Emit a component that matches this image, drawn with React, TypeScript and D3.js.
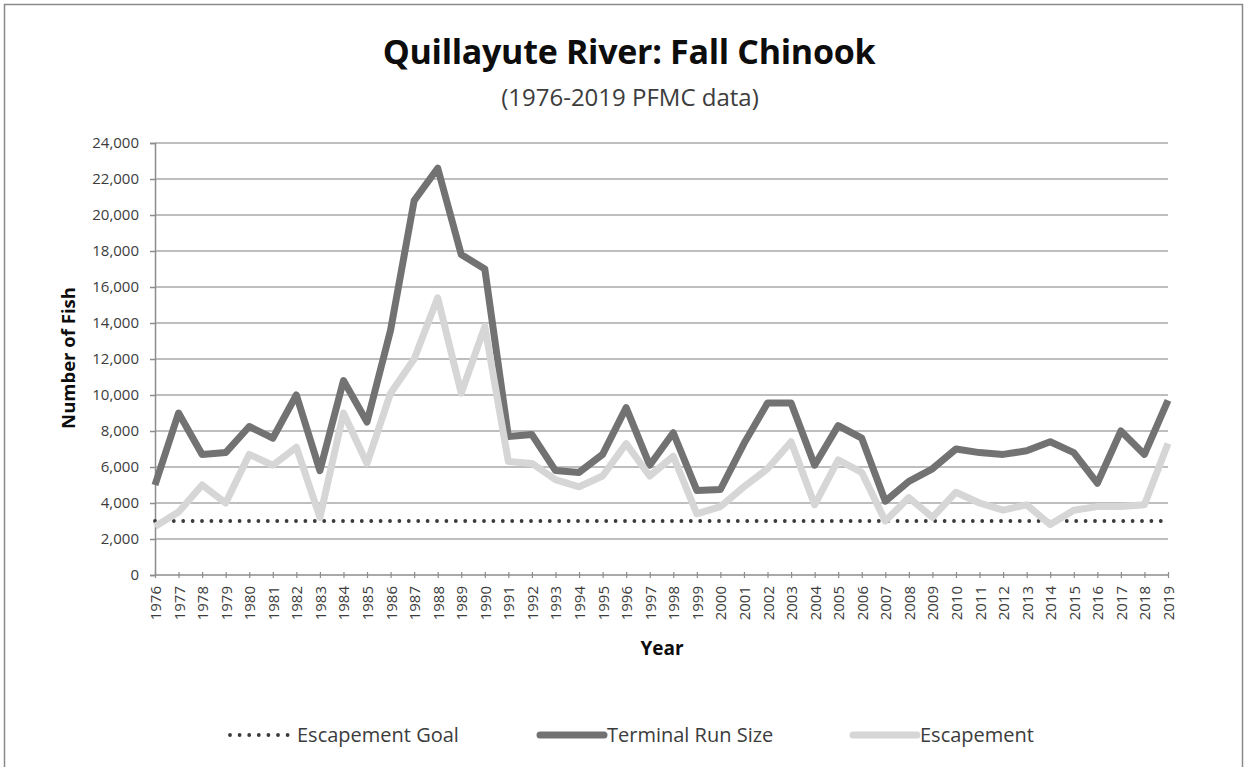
import React, { useEffect, useRef } from 'react';
import * as d3 from 'd3';

const years = [
  '1976', '1977', '1978', '1979', '1980', '1981', '1982', '1983', '1984', '1985',
  '1986', '1987', '1988', '1989', '1990', '1991', '1992', '1993', '1994', '1995',
  '1996', '1997', '1998', '1999', '2000', '2001', '2002', '2003', '2004', '2005',
  '2006', '2007', '2008', '2009', '2010', '2011', '2012', '2013', '2014', '2015',
  '2016', '2017', '2018', '2019'
];

const terminalRunSize = [
  5000, 9000, 6700, 6800, 8250, 7600, 10000, 5800, 10800, 8500,
  13600, 20800, 22600, 17800, 17000, 7700, 7800, 5800, 5700, 6700,
  9300, 6100, 7900, 4700, 4750, 7300, 9550, 9550, 6100, 8300,
  7600, 4100, 5200, 5900, 7000, 6800, 6700, 6900, 7400, 6800,
  5100, 8000, 6700, 9700
];

const escapement = [
  2700, 3500, 5000, 4000, 6700, 6100, 7100, 3200, 9000, 6200,
  10100, 12000, 15400, 10100, 13800, 6300, 6200, 5300, 4900, 5500,
  7300, 5500, 6600, 3400, 3800, 4900, 5900, 7400, 3900, 6400,
  5700, 3000, 4300, 3200, 4600, 4000, 3600, 3900, 2800, 3600,
  3800, 3800, 3900, 7300
];

const escapementGoal = 3000;

const yTicks = [0, 2000, 4000, 6000, 8000, 10000, 12000, 14000, 16000, 18000, 20000, 22000, 24000];

const legendItems = [
  { label: 'Escapement Goal', kind: 'goal' },
  { label: 'Terminal Run Size', kind: 'run' },
  { label: 'Escapement', kind: 'esc' }
];

const W = 1248;
const H = 767;

export default function App() {
  const svgRef = useRef<SVGSVGElement>(null);

  useEffect(() => {
    if (!svgRef.current) return;
    const svg = d3.select(svgRef.current);
    svg.selectAll('*').remove();

    const font = "'Open Sans', sans-serif";
    const colors = {
      run: '#727272',
      esc: '#d6d6d6',
      goal: '#3a3a3a',
      grid: '#a9a9a9',
      axis: '#8c8c8c',
      text: '#3c3c3c',
      title: '#0d0d0d'
    };

    const margin = { top: 143, right: 80, bottom: 192, left: 155 };
    const innerWidth = W - margin.left - margin.right;
    const innerHeight = H - margin.top - margin.bottom;

    svg.append('rect').attr('width', W).attr('height', H).attr('fill', '#ffffff');
    // chart border
    svg.append('rect')
      .attr('x', 4.5).attr('y', 4.5)
      .attr('width', 1238).attr('height', 780)
      .attr('fill', 'none')
      .attr('stroke', '#8a8a8a')
      .attr('stroke-width', 1.5);

    // Title
    svg.append('text')
      .attr('x', 629).attr('y', 64)
      .attr('text-anchor', 'middle')
      .attr('font-family', font)
      .attr('font-size', '34px')
      .attr('font-weight', '700')
      .attr('fill', colors.title)
      .attr('letter-spacing', '-0.3px')
      .text('Quillayute River: Fall Chinook');

    svg.append('text')
      .attr('x', 630).attr('y', 106)
      .attr('text-anchor', 'middle')
      .attr('font-family', font)
      .attr('font-size', '24px')
      .attr('fill', colors.text)
      .text('(1976-2019 PFMC data)');

    const g = svg.append('g').attr('transform', `translate(${margin.left},${margin.top})`);

    const x = d3.scalePoint<string>().domain(years).range([0, innerWidth]);
    const y = d3.scaleLinear().domain([0, 24000]).range([innerHeight, 0]);

    // Grid
    g.append('g')
      .selectAll('line')
      .data(yTicks.filter(t => t > 0))
      .enter().append('line')
      .attr('x1', 0).attr('x2', innerWidth)
      .attr('y1', d => y(d)).attr('y2', d => y(d))
      .attr('stroke', colors.grid)
      .attr('stroke-width', 1.6);

    // Y axis
    const yAxis = g.append('g')
      .call(d3.axisLeft(y).tickValues(yTicks).tickSize(5).tickPadding(11).tickFormat(d3.format(',')));
    yAxis.select('.domain').attr('stroke', colors.axis).attr('stroke-width', 1.5);
    yAxis.selectAll('line').attr('stroke', colors.axis).attr('stroke-width', 1.5);
    yAxis.selectAll('text')
      .attr('font-family', font)
      .attr('font-size', '15px')
      .attr('fill', colors.text);

    // X axis
    const xAxis = g.append('g')
      .attr('transform', `translate(0,${innerHeight})`)
      .call(d3.axisBottom(x).tickSize(4).tickPadding(0));
    xAxis.select('.domain').attr('stroke', colors.axis).attr('stroke-width', 1.5).attr('d', `M0,0H${innerWidth}`);
    xAxis.selectAll('line').attr('stroke', colors.axis).attr('stroke-width', 1.2).attr('y1', -3).attr('y2', 3);
    xAxis.selectAll('text')
      .attr('font-family', font)
      .attr('font-size', '15px')
      .attr('fill', colors.text)
      .attr('dy', null)
      .attr('y', null)
      .attr('transform', 'translate(5.5,11) rotate(-90)')
      .style('text-anchor', 'end');

    // Axis titles
    svg.append('text')
      .attr('transform', `translate(75,${margin.top + innerHeight / 2 - 1}) rotate(-90)`)
      .attr('text-anchor', 'middle')
      .attr('font-family', font)
      .attr('font-size', '18.5px')
      .attr('font-weight', '700')
      .attr('fill', colors.title)
      .text('Number of Fish');

    svg.append('text')
      .attr('x', 662).attr('y', 655)
      .attr('text-anchor', 'middle')
      .attr('font-family', font)
      .attr('font-size', '19px')
      .attr('font-weight', '700')
      .attr('fill', colors.title)
      .text('Year');

    // Escapement goal (dotted)
    g.append('line')
      .attr('x1', x(years[0]) || 0)
      .attr('x2', x(years[years.length - 1]) || 0)
      .attr('y1', y(escapementGoal))
      .attr('y2', y(escapementGoal))
      .attr('stroke', colors.goal)
      .attr('stroke-width', 3.8)
      .attr('stroke-linecap', 'round')
      .attr('stroke-dasharray', '0 9.4');

    const line = d3.line<number>()
      .x((_, i) => x(years[i]) || 0)
      .y(d => y(d));

    g.append('path')
      .datum(terminalRunSize)
      .attr('fill', 'none')
      .attr('stroke', colors.run)
      .attr('stroke-width', 7)
      .attr('stroke-linejoin', 'round')
      .attr('d', line);

    g.append('path')
      .datum(escapement)
      .attr('fill', 'none')
      .attr('stroke', colors.esc)
      .attr('stroke-width', 7)
      .attr('stroke-linejoin', 'round')
      .attr('d', line);

    // Legend
    const legendX = [228, 540, 853];
    const legendY = 735;
    const lg = svg.append('g');
    legendItems.forEach((item, i) => {
      const x0 = legendX[i];
      const sample = lg.append('line')
        .attr('x1', x0 + (item.kind === 'goal' ? 2 : 0))
        .attr('x2', x0 + (item.kind === 'goal' ? 61 : 64))
        .attr('y1', legendY).attr('y2', legendY);
      if (item.kind === 'goal') {
        sample.attr('stroke', colors.goal).attr('stroke-width', 3.8)
          .attr('stroke-linecap', 'round').attr('stroke-dasharray', '0 9.6');
      } else {
        sample.attr('stroke', item.kind === 'run' ? colors.run : colors.esc)
          .attr('stroke-width', 7).attr('stroke-linecap', 'round');
      }
      lg.append('text')
        .attr('x', x0 + (item.kind === 'goal' ? 69 : 67))
        .attr('y', legendY + 7)
        .attr('font-family', font)
        .attr('font-size', '20px')
        .attr('fill', colors.text)
        .text(item.label);
    });
  }, []);

  return (
    <svg
      ref={svgRef}
      width={W}
      height={H}
      viewBox={`0 0 ${W} ${H}`}
      style={{ position: 'absolute', left: 0, top: 0, display: 'block' }}
    />
  );
}
